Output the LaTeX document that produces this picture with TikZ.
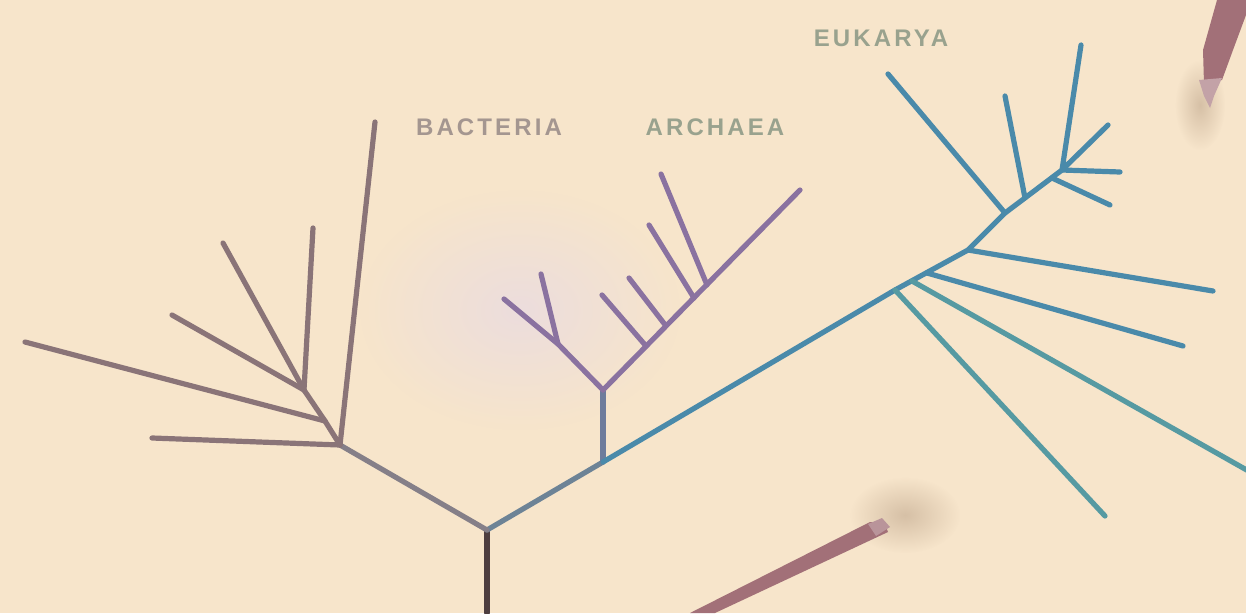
\documentclass[tikz,border=0pt]{standalone}
\usepackage{fontspec}
\usetikzlibrary{fadings}
\setmainfont{Liberation Sans}
\newfontfamily\labelfont[LetterSpace=13]{Liberation Sans Bold}
\tikzfading[name=softglow, inner color=transparent!0, outer color=transparent!100]
\definecolor{bgc}{HTML}{F7E5CB}
\definecolor{glowc}{HTML}{ECDDDD}
\definecolor{bac}{HTML}{8A7478}
\definecolor{rootc}{HTML}{4E3E40}
\definecolor{stemc}{HTML}{857F88}
\definecolor{archc}{HTML}{8A72A0}
\definecolor{archstem}{HTML}{6E7C9C}
\definecolor{eukc}{HTML}{4A8AAA}
\definecolor{eukt}{HTML}{569AA2}
\definecolor{labbac}{HTML}{A49690}
\definecolor{labgr}{HTML}{99A28E}
\definecolor{streak}{HTML}{A27078}
\definecolor{shadowc}{HTML}{D6C0A6}
\tikzset{
  br/.style={line width=5.2pt, line cap=round, line join=round},
  bacline/.style={br, draw=bac},
  archline/.style={br, draw=archc},
  eukline/.style={br, draw=eukc},
  euktline/.style={br, draw=eukt},
  lab/.style={font=\labelfont\fontsize{24}{24}\selectfont, inner sep=0pt, anchor=center}
}
\begin{document}
\begin{tikzpicture}[x=1pt,y=-1pt]
\fill[bgc] (0,0) rectangle (1246,613);
\useasboundingbox (0,0) rectangle (1246,613);
% faint glows and streaks
\fill[glowc, path fading=softglow] (520,310) ellipse (160 and 120);
\fill[shadowc, path fading=softglow] (905,515) ellipse (55 and 38);
\fill[shadowc, path fading=softglow] (1200,105) ellipse (25 and 45);
\fill[streak] (690,613) -- (870,522) -- (884,522) -- (888,532) -- (715,613) -- cycle;
\fill[streak!75!white] (868,524) -- (882,518) -- (890,527) -- (876,536) -- cycle;
\fill[streak] (1217,0) -- (1246,0) -- (1246,15) -- (1233,50) -- (1222,80) -- (1204,84) -- (1203,50) -- cycle;
\fill[streak!65!white] (1199,80) -- (1222,78) -- (1214,96) -- (1210,108) -- (1204,96) -- cycle;
% coordinates
\coordinate (r0) at (487,613);
\coordinate (R) at (487,530);
\coordinate (B) at (340,445);
\coordinate (Bm) at (325,421);
\coordinate (B1) at (304,390);
\coordinate (bl1) at (152,438);
\coordinate (bl2) at (375,122);
\coordinate (bl3) at (25,342);
\coordinate (bl4) at (172,315);
\coordinate (bl5) at (223,243);
\coordinate (bl6) at (313,228);
\coordinate (A) at (603,462);
\coordinate (A1) at (603,390);
\coordinate (A2) at (558,344);
\coordinate (al1) at (504,299);
\coordinate (al2) at (541,274);
\coordinate (aT) at (800,190);
\coordinate (a3) at (646,346);
\coordinate (a4) at (666,326);
\coordinate (a5) at (694,298);
\coordinate (a6) at (707,285);
\coordinate (al3) at (602,295);
\coordinate (al4) at (629,278);
\coordinate (al5) at (649,225);
\coordinate (al6) at (661,174);
\coordinate (E1) at (895,290);
\coordinate (Ea) at (912,281);
\coordinate (Eb) at (927,273);
\coordinate (E2) at (968,250);
\coordinate (E3) at (1005,213);
\coordinate (Ec) at (1025,198);
\coordinate (Ed) at (1052,178);
\coordinate (E4) at (1062,170);
\coordinate (el1) at (1105,516);
\coordinate (el2) at (1252,473);
\coordinate (el3) at (1183,346);
\coordinate (el4) at (1213,291);
\coordinate (el5) at (888,74);
\coordinate (el6) at (1005,96);
\coordinate (el7) at (1081,45);
\coordinate (el8) at (1108,125);
\coordinate (el9) at (1120,172);
\coordinate (el10) at (1110,205);
% root
\draw[br, draw=rootc] (r0) -- (R);
\draw[br, draw=stemc!60!eukc] (R) -- (A);
% bacteria
\draw[br, draw=stemc] (R) -- (B);
\draw[bacline] (B) -- (Bm) -- (B1);
\draw[bacline] (B) -- (bl1);
\draw[bacline] (B) -- (bl2);
\draw[bacline] (Bm) -- (bl3);
\draw[bacline] (B1) -- (bl4);
\draw[bacline] (B1) -- (bl5);
\draw[bacline] (B1) -- (bl6);
% archaea
\draw[br, draw=archstem] (A) -- (A1);
\draw[archline] (A1) -- (A2) -- (al1);
\draw[archline] (A2) -- (al2);
\draw[archline] (A1) -- (aT);
\draw[archline] (a3) -- (al3);
\draw[archline] (a4) -- (al4);
\draw[archline] (a5) -- (al5);
\draw[archline] (a6) -- (al6);
% eukarya
\draw[eukline] (A) -- (E1) -- (E2) -- (E3) -- (E4) -- (el7);
\draw[euktline] (E1) -- (el1);
\draw[euktline] (Ea) -- (el2);
\draw[eukline] (Eb) -- (el3);
\draw[eukline] (E2) -- (el4);
\draw[eukline] (E3) -- (el5);
\draw[eukline] (Ec) -- (el6);
\draw[eukline] (E4) -- (el8);
\draw[eukline] (E4) -- (el9);
\draw[eukline] (Ed) -- (el10);
% labels
\node[lab, text=labbac] (tbac) at (489,127) {BACTERIA};
\node[lab, text=labgr] (tarc) at (715,127) {ARCHAEA};
\node[lab, text=labgr] (teuk) at (881,38) {EUKARYA};
\end{tikzpicture}
\end{document}
